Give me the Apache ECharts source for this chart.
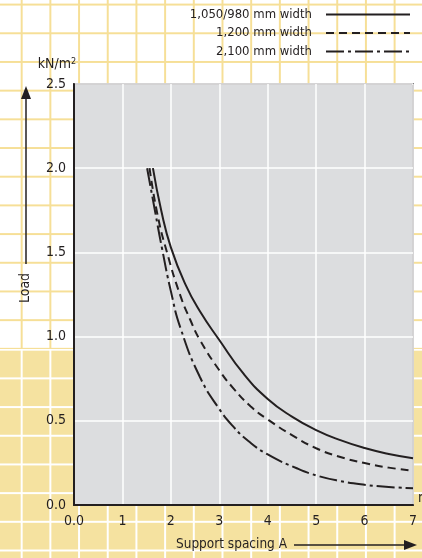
<!DOCTYPE html>
<html>
<head>
<meta charset="utf-8">
<script src="https://cdn.jsdelivr.net/npm/echarts@6/dist/echarts.min.js"></script>
<style>
  html, body { margin: 0; padding: 0; }
  #wrap { position: relative; width: 422px; height: 558px; overflow: hidden; }
  /* graph paper behind the chart */
  .paper { position: absolute; left: 0; width: 422px; }
  #paperTop {
    top: 0; height: 349px; background-color: #ffffff;
    background-image: linear-gradient(to right, #f6df97 2px, transparent 2px),
                      linear-gradient(to bottom, #f6df97 2px, transparent 2px);
    background-size: 28.7px 100%, 100% 28.7px;
    background-position: 20.7px 0, 0 3.6px;
  }
  #paperBottom {
    top: 349px; height: 209px; background-color: #f5e2a0;
    background-image: linear-gradient(to right, #ffffff 2px, transparent 2px),
                      linear-gradient(to bottom, #ffffff 2px, transparent 2px);
    background-size: 28.7px 100%, 100% 28.7px;
    background-position: 20.7px 0, 0 28.4px;
  }
  #main { position: absolute; left: 0; top: 0; width: 422px; height: 558px; }
</style>
</head>
<body>
<div id="wrap">
  <div class="paper" id="paperTop"></div>
  <div class="paper" id="paperBottom"></div>
  <div id="main"></div>
</div>
<script>
// curves (support spacing A in m, load in kN/m2)
var names = ['1,050/980 mm width', '1,200 mm width', '2,100 mm width'];

var spanA = [1.63, 1.8, 2.0, 2.3, 2.6, 3.0, 3.5, 4.0, 4.5, 5.0, 5.5, 6.0, 6.5, 7.0];
var loadA = [2.0, 1.75, 1.53, 1.31, 1.15, 0.98, 0.78, 0.63, 0.525, 0.445, 0.385, 0.338, 0.303, 0.278];

var spanB = [1.56, 1.72, 1.92, 2.2, 2.4, 2.6, 3.0, 3.3, 3.65, 4.0, 4.5, 5.0, 5.5, 6.0, 6.5, 7.0];
var loadB = [2.0, 1.73, 1.5, 1.24, 1.1, 0.98, 0.80, 0.69, 0.585, 0.508, 0.415, 0.337, 0.285, 0.249, 0.222, 0.204];

var spanC = [1.51, 1.67, 1.82, 2.0, 2.2, 2.6, 3.0, 3.3, 3.6, 4.0, 4.6, 5.0, 5.5, 6.0, 6.5, 7.0];
var loadC = [2.0, 1.75, 1.52, 1.27, 1.05, 0.76, 0.57, 0.462, 0.38, 0.30, 0.218, 0.176, 0.142, 0.12, 0.107, 0.099];

var lineTypes = ['solid', [8, 5], [18, 4, 3, 4]];

var ink = '#231f20';
var font = "'Liberation Sans Narrow', 'DejaVu Sans Condensed', sans-serif";

function pairs(xs, ys) {
  return xs.map(function (x, i) { return [x, ys[i]]; });
}

var chart = echarts.init(document.getElementById('main'));

var seriesList = [pairs(spanA, loadA), pairs(spanB, loadB), pairs(spanC, loadC)].map(function (d, i) {
  return {
    name: names[i],
    type: 'line',
    data: d,
    symbol: 'none',
    smooth: 0.5,
    lineStyle: { color: ink, width: 2, type: lineTypes[i] },
    itemStyle: { color: ink }
  };
});

chart.setOption({
  backgroundColor: 'transparent',
  animation: false,
  textStyle: { fontFamily: font },
  legend: {
    data: names,
    orient: 'vertical',
    right: 6,
    top: 3,
    align: 'right',
    itemWidth: 84,
    itemHeight: 14,
    itemGap: 5.5,
    itemStyle: { opacity: 0 },
    textStyle: { fontSize: 13, color: ink, fontFamily: font, padding: [0, 9, 0, 0] }
  },
  grid: {
    left: 74, right: 9, top: 84, bottom: 53,
    show: true,
    backgroundColor: '#dcdddf',
    borderColor: ink,
    borderWidth: 1.5
  },
  xAxis: {
    type: 'value',
    min: 0, max: 7, interval: 1,
    axisLine: { lineStyle: { color: ink, width: 2 } },
    axisTick: { show: false },
    splitLine: { lineStyle: { color: '#ffffff', width: 1.5 } },
    axisLabel: {
      color: ink, fontSize: 14, margin: 9,
      formatter: function (v) { return v === 0 ? '0.0' : String(v); }
    }
  },
  yAxis: {
    type: 'value',
    min: 0, max: 2.5, interval: 0.5,
    name: 'kN/m{sup|2}',
    nameLocation: 'end',
    nameGap: 13,
    nameTextStyle: {
      color: ink, fontSize: 14, align: 'center', padding: [0, 0, 0, -34],
      rich: { sup: { fontSize: 9, color: ink, verticalAlign: 'top', padding: [0, 0, 5, 0] } }
    },
    axisLine: { show: true, lineStyle: { color: ink, width: 2 } },
    axisTick: { show: false },
    splitLine: { lineStyle: { color: '#ffffff', width: 1.5 } },
    axisLabel: {
      color: ink, fontSize: 14, margin: 8,
      formatter: function (v) { return v.toFixed(1); }
    }
  },
  graphic: [
    // "Load" arrow
    { type: 'line', shape: { x1: 26, y1: 264, x2: 26, y2: 96 }, style: { stroke: ink, lineWidth: 1.5 } },
    { type: 'polygon', shape: { points: [[26, 86], [21, 99], [31, 99]] }, style: { fill: ink } },
    { type: 'text', x: 25, y: 288, rotation: Math.PI / 2,
      style: { text: 'Load', fill: ink, font: '14px ' + font, align: 'center', verticalAlign: 'middle' } },
    // "Support spacing A" arrow
    { type: 'text', x: 176, y: 544,
      style: { text: 'Support spacing A', fill: ink, font: '13.5px ' + font, align: 'left', verticalAlign: 'middle' } },
    { type: 'line', shape: { x1: 294, y1: 545, x2: 406, y2: 545 }, style: { stroke: ink, lineWidth: 1.5 } },
    { type: 'polygon', shape: { points: [[417, 545], [404, 540], [404, 550]] }, style: { fill: ink } },
    // unit of x axis, clipped at the edge
    { type: 'text', x: 418, y: 498,
      style: { text: 'm', fill: ink, font: '14px ' + font, align: 'left', verticalAlign: 'middle' } }
  ],
  series: seriesList
});
</script>
</body>
</html>
